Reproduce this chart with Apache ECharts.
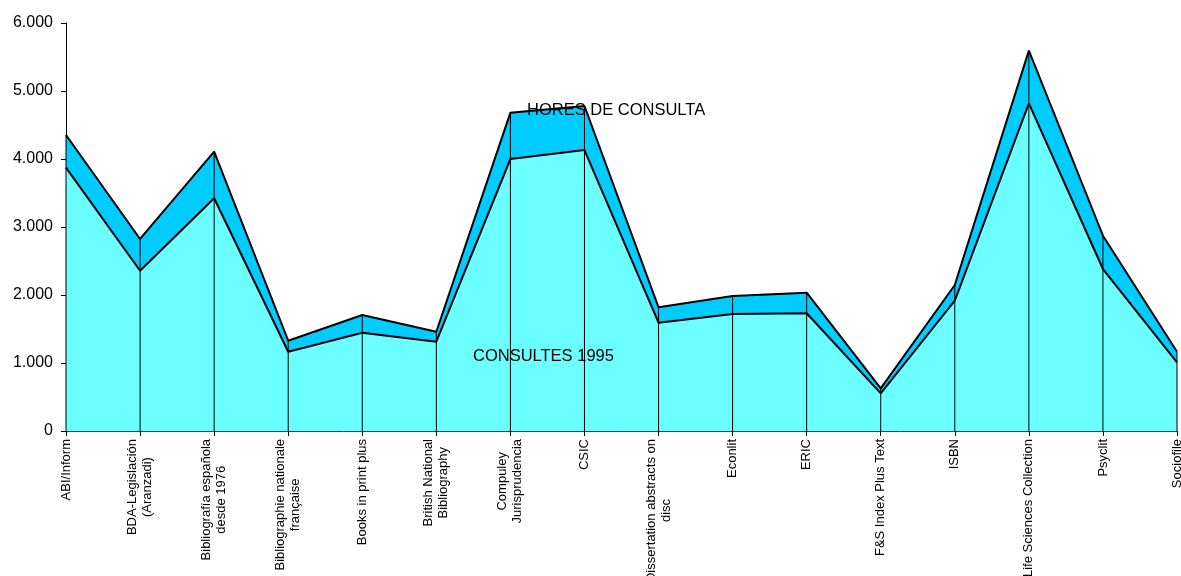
<!DOCTYPE html>
<html>
<head>
<meta charset="utf-8">
<script src="https://cdn.jsdelivr.net/npm/echarts@6/dist/echarts.min.js"></script>
<style>
html,body{margin:0;padding:0;background:#fff;overflow:hidden;}
#chart{width:1181px;height:576px;}
</style>
</head>
<body>
<div id="chart"></div>
<script>
var categories = [
  "ABI/Inform",
  "BDA-Legislación\n(Aranzadi)",
  "Bibliografía española\ndesde 1976",
  "Bibliographie nationale\nfrançaise",
  "Books in print plus",
  "British National\nBibliography",
  "Compuley\nJurisprudencia",
  "CSIC",
  "Dissertation abstracts on\ndisc",
  "Econlit",
  "ERIC",
  "F&S Index Plus Text",
  "ISBN",
  "Life Sciences Collection",
  "Psyclit",
  "Sociofile"
];
var seriesNames = ["CONSULTES 1995", "HORES DE CONSULTA"];
var consultes1995 = [3872, 2357, 3422, 1166, 1446, 1313, 4000, 4132, 1593, 1721, 1731, 554, 1916, 4819, 2382, 1010];
var horesConsulta = [481, 467, 685, 162, 260, 147, 681, 647, 226, 264, 303, 74, 231, 774, 490, 156];
var yTicks = [0, 1000, 2000, 3000, 4000, 5000, 6000];

var totals = consultes1995.map(function (v, i) { return v + horesConsulta[i]; });

function fmt(v) {
  return String(v).replace(/\B(?=(\d{3})+(?!\d))/g, '.');
}

var el = document.getElementById('chart');
var chart = echarts.init(el, null, {renderer: 'canvas'});
var FONT = '"Liberation Sans", Arial, sans-serif';

var option = {
  animation: false,
  backgroundColor: '#ffffff',
  grid: {left: 66, right: 4, top: 23, bottom: 145, containLabel: false, outerBoundsMode: 'none'},
  xAxis: {
    type: 'category',
    data: categories,
    boundaryGap: false,
    axisLine: {show: true, lineStyle: {color: '#404040', width: 1}},
    axisTick: {show: true, length: 5, inside: false, alignWithLabel: true, lineStyle: {color: '#000'}},
    axisLabel: {
      rotate: 90,
      interval: 0,
      margin: 8,
      color: '#000',
      fontFamily: FONT,
      fontSize: 13,
      lineHeight: 15,
      hideOverlap: false,
      formatter: function (v) {
        return v.split('\n').map(function (s) { return '{c|' + s + '}'; }).join('\n');
      },
      rich: {c: {align: 'center', fontFamily: FONT, fontSize: 13, lineHeight: 15, color: '#000'}}
    },
    splitLine: {show: false}
  },
  yAxis: {
    type: 'value',
    min: yTicks[0],
    max: yTicks[yTicks.length - 1],
    interval: yTicks[1] - yTicks[0],
    axisLine: {show: true, lineStyle: {color: '#000', width: 1}},
    axisTick: {show: true, length: 5, lineStyle: {color: '#000'}},
    axisLabel: {
      color: '#000',
      fontFamily: FONT,
      fontSize: 16,
      margin: 13,
      formatter: function (v) { return fmt(v); }
    },
    splitLine: {show: false}
  },
  series: [
    {
      name: seriesNames[0],
      type: 'line',
      stack: 'total',
      data: consultes1995,
      symbol: 'none',
      lineStyle: {color: '#000', width: 2},
      areaStyle: {color: '#6BFFFF', opacity: 1},
      z: 2
    },
    {
      name: seriesNames[1],
      type: 'line',
      stack: 'total',
      data: horesConsulta,
      symbol: 'none',
      lineStyle: {color: '#000', width: 2},
      areaStyle: {color: '#00CCFF', opacity: 1},
      z: 1
    },
    {
      name: 'drop',
      type: 'bar',
      data: totals,
      barWidth: 1,
      itemStyle: {color: '#000'},
      silent: true,
      z: 3
    }
  ],
  graphic: [
    {
      type: 'text',
      left: 527, top: 102,
      z: 10,
      style: {text: seriesNames[1], font: '16.5px ' + FONT, fill: '#000'}
    },
    {
      type: 'text',
      left: 473, top: 348,
      z: 10,
      style: {text: seriesNames[0], font: '16.5px ' + FONT, fill: '#000'}
    }
  ]
};
chart.setOption(option);
</script>
</body>
</html>
